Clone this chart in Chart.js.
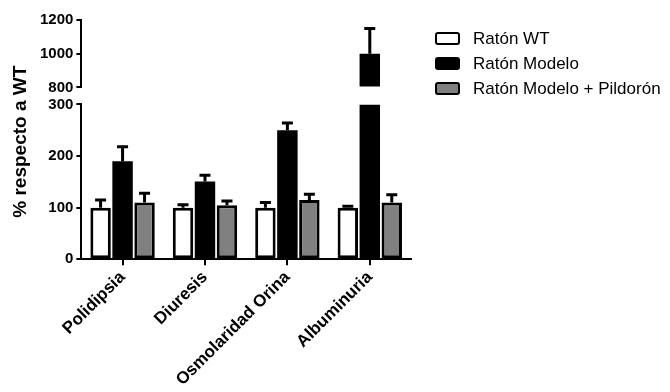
<!DOCTYPE html>
<html>
<head>
<meta charset="utf-8">
<script src="https://cdn.jsdelivr.net/npm/chart.js@4.4.1/dist/chart.umd.min.js"></script>
<style>
  html, body { margin: 0; padding: 0; background: #fff; }
  #wrap { position: relative; width: 670px; height: 392px; }
  #legend { position: absolute; left: 435px; top: 26px; font: 17px 'Liberation Sans', Arial, sans-serif; color: #000; }
  .item { display: flex; align-items: center; height: 25px; white-space: nowrap; }
  .box { width: 21px; height: 9px; border: 2px solid #000; border-radius: 3px; margin-right: 13px; }
</style>
</head>
<body>
<div id="wrap">
  <canvas id="myChart" width="670" height="392"></canvas>
  <div id="legend"></div>
</div>
<script>
const categories = ['Polidipsia', 'Diuresis', 'Osmolaridad Orina', 'Albuminuria'];
const seriesNames = ['Ratón WT', 'Ratón Modelo', 'Ratón Modelo + Pildorón'];
const seriesColors = ['#ffffff', '#000000', '#808080'];

const wtMeans = [100, 100, 100, 100];
const wtErrors = [15, 6, 10, 3];
const modeloMeans = [190, 151, 250, 1000];
const modeloErrors = [28, 12, 14, 150];
const pildoronMeans = [110, 105, 115, 110];
const pildoronErrors = [18, 8, 11, 15];

// broken y axis: lower and upper segments
const lowerRange = [0, 300];
const lowerStep = 100;
const upperRange = [800, 1200];
const upperStep = 200;
const yTitleText = '% respecto a WT';

const fontFamily = "'Liberation Sans', Arial, sans-serif";
const allMeans = [wtMeans, modeloMeans, pildoronMeans];
const allErrors = [wtErrors, modeloErrors, pildoronErrors];

// solid black bars need no outline (avoids an antialiased seam)
function outline(color) {
  return color === '#000000' ? 0 : 3;
}

function buildDatasets() {
  let sets = [];
  for (let i = 0; i < seriesNames.length; i++) {
    let means = allMeans[i];
    sets.push({
      label: seriesNames[i],
      data: means.map(v => Math.min(v, lowerRange[1])),
      means: means,
      errors: allErrors[i].map((e, j) => means[j] > lowerRange[1] ? null : e),
      backgroundColor: seriesColors[i],
      borderColor: '#000',
      borderWidth: outline(seriesColors[i]),
      borderSkipped: false,
      yAxisID: 'y',
      stack: 's' + i
    });
  }
  // bars that go past the break continue on the upper segment
  for (let i = 0; i < seriesNames.length; i++) {
    let means = allMeans[i];
    if (!means.some(v => v > lowerRange[1])) continue;
    sets.push({
      label: seriesNames[i] + ' (upper)',
      data: means.map(v => v > lowerRange[1] ? v : null),
      means: means,
      errors: allErrors[i],
      base: upperRange[0],
      backgroundColor: seriesColors[i],
      borderColor: '#000',
      borderWidth: outline(seriesColors[i]),
      borderSkipped: false,
      yAxisID: 'y2',
      stack: 's' + i
    });
  }
  return sets;
}

const errorBars = {
  id: 'errorBars',
  afterDatasetsDraw(chart) {
    const ctx = chart.ctx;
    ctx.save();
    ctx.strokeStyle = '#000';
    ctx.lineWidth = 3;
    chart.data.datasets.forEach((ds, i) => {
      const meta = chart.getDatasetMeta(i);
      const yScale = chart.scales[ds.yAxisID];
      meta.data.forEach((bar, j) => {
        if (ds.data[j] == null || ds.errors[j] == null) return;
        const top = yScale.getPixelForValue(ds.means[j] + ds.errors[j]);
        ctx.beginPath();
        ctx.moveTo(bar.x, bar.y);
        ctx.lineTo(bar.x, top);
        ctx.moveTo(bar.x - 5.5, top);
        ctx.lineTo(bar.x + 5.5, top);
        ctx.stroke();
      });
    });
    ctx.restore();
  }
};

const yTitle = {
  id: 'yTitle',
  afterDraw(chart) {
    const {ctx, chartArea} = chart;
    ctx.save();
    ctx.translate(21, (chartArea.top + chartArea.bottom) / 2 + 2);
    ctx.rotate(-Math.PI / 2);
    ctx.font = 'bold 19px ' + fontFamily;
    ctx.textAlign = 'center';
    ctx.textBaseline = 'middle';
    ctx.fillStyle = '#000';
    ctx.fillText(yTitleText, 0, 0);
    ctx.restore();
  }
};

function axisLook(step, range, weight) {
  return {
    type: 'linear',
    position: 'left',
    stack: 'broken',
    stackWeight: weight,
    stacked: false,
    min: range[0],
    max: range[1],
    ticks: {
      stepSize: step,
      color: '#000',
      padding: 3,
      format: { useGrouping: false },
      font: { family: fontFamily, size: 15, weight: 'bold' }
    },
    grid: { drawOnChartArea: false, drawTicks: true, tickLength: 5, color: '#000', lineWidth: 2 },
    border: { display: true, color: '#000', width: 2 }
  };
}

const config = {
  type: 'bar',
  data: { labels: categories, datasets: buildDatasets() },
  options: {
    responsive: false,
    animation: false,
    categoryPercentage: 0.8,
    barPercentage: 0.93,
    layout: { padding: { left: 37, top: 20, right: 259, bottom: 0 } },
    plugins: { legend: { display: false }, tooltip: { enabled: false } },
    scales: {
      x: {
        stacked: true,
        ticks: {
          color: '#000',
          minRotation: 45,
          maxRotation: 45,
          padding: 2,
          font: { family: fontFamily, size: 17, weight: 'bold' }
        },
        grid: { drawOnChartArea: false, drawTicks: true, tickLength: 6, offset: false, color: '#000', lineWidth: 2 },
        border: { display: true, color: '#000', width: 2 }
      },
      y: axisLook(lowerStep, lowerRange, 154),
      gap: { type: 'linear', position: 'left', stack: 'broken', stackWeight: 17, display: false },
      y2: axisLook(upperStep, upperRange, 67)
    }
  },
  plugins: [errorBars, yTitle]
};

const myChart = new Chart(document.getElementById('myChart'), config);

// legend
const legend = document.getElementById('legend');
for (let i = 0; i < seriesNames.length; i++) {
  let row = document.createElement('div');
  row.className = 'item';
  let box = document.createElement('span');
  box.className = 'box';
  box.style.background = seriesColors[i];
  let txt = document.createElement('span');
  txt.textContent = seriesNames[i];
  row.appendChild(box);
  row.appendChild(txt);
  legend.appendChild(row);
}
</script>
</body>
</html>
